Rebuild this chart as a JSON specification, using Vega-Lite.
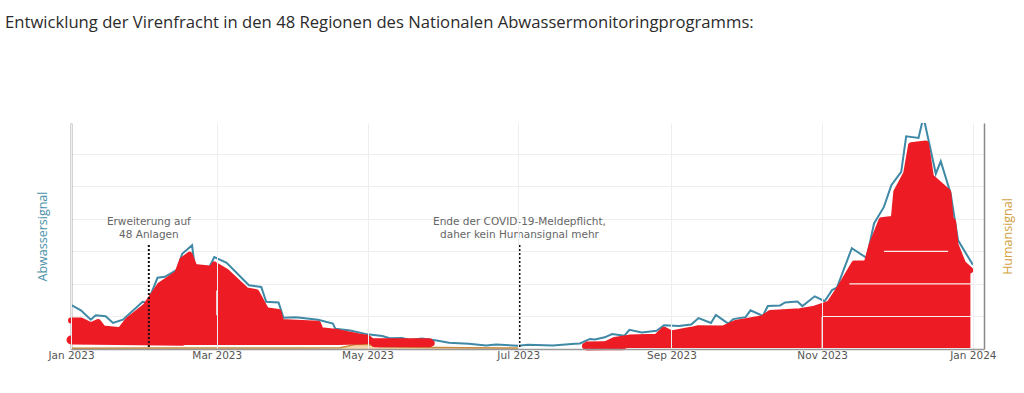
{"$schema":"https://vega.github.io/schema/vega-lite/v6.json","width":913,"height":226,"autosize":{"type":"none"},"padding":{"left":71,"top":123,"right":40,"bottom":44},"background":"white",
"title":{"text":"Entwicklung der Virenfracht in den 48 Regionen des Nationalen Abwassermonitoringprogramms:","anchor":"start","frame":"group","dx":-66,"offset":91,"font":"Open Sans","fontSize":16.65,"fontWeight":"normal","color":"#2b2b2b"},
"config":{"view":{"stroke":null},"font":"Open Sans"},
"datasets":{
"blue":[{"d":"2023-01-01","v":13.6},{"d":"2023-01-05","v":11.9},{"d":"2023-01-09","v":9.0},{"d":"2023-01-11","v":10.4},{"d":"2023-01-15","v":10.05},{"d":"2023-01-18","v":8.0},{"d":"2023-01-22","v":9.0},{"d":"2023-01-30","v":14.5},{"d":"2023-02-01","v":14.2},{"d":"2023-02-05","v":21.9},{"d":"2023-02-08","v":22.2},{"d":"2023-02-13","v":24.4},{"d":"2023-02-15","v":29.3},{"d":"2023-02-19","v":31.9},{"d":"2023-02-20","v":25.7},{"d":"2023-02-26","v":25.2},{"d":"2023-02-28","v":28.3},{"d":"2023-03-05","v":26.5},{"d":"2023-03-14","v":19.6},{"d":"2023-03-19","v":19.1},{"d":"2023-03-21","v":14.5},{"d":"2023-03-26","v":14.3},{"d":"2023-03-28","v":9.6},{"d":"2023-04-02","v":9.8},{"d":"2023-04-11","v":9.0},{"d":"2023-04-17","v":7.8},{"d":"2023-04-18","v":6.2},{"d":"2023-04-24","v":5.7},{"d":"2023-05-01","v":4.5},{"d":"2023-05-07","v":4.0},{"d":"2023-05-10","v":3.3},{"d":"2023-05-15","v":3.4},{"d":"2023-05-18","v":2.8},{"d":"2023-05-23","v":3.2},{"d":"2023-05-29","v":2.6},{"d":"2023-06-03","v":1.9},{"d":"2023-06-11","v":1.6},{"d":"2023-06-18","v":1.1},{"d":"2023-06-22","v":1.4},{"d":"2023-07-01","v":1.0},{"d":"2023-07-05","v":1.3},{"d":"2023-07-15","v":1.1},{"d":"2023-07-24","v":1.6},{"d":"2023-07-26","v":1.7},{"d":"2023-07-30","v":3.1},{"d":"2023-08-01","v":2.9},{"d":"2023-08-05","v":3.6},{"d":"2023-08-08","v":4.6},{"d":"2023-08-13","v":4.1},{"d":"2023-08-15","v":5.9},{"d":"2023-08-20","v":5.1},{"d":"2023-08-26","v":5.6},{"d":"2023-08-29","v":7.3},{"d":"2023-09-04","v":7.1},{"d":"2023-09-09","v":7.5},{"d":"2023-09-12","v":9.5},{"d":"2023-09-17","v":8.0},{"d":"2023-09-19","v":10.5},{"d":"2023-09-24","v":7.8},{"d":"2023-09-26","v":9.2},{"d":"2023-10-01","v":9.8},{"d":"2023-10-03","v":11.9},{"d":"2023-10-08","v":10.2},{"d":"2023-10-10","v":13.2},{"d":"2023-10-15","v":13.4},{"d":"2023-10-17","v":14.3},{"d":"2023-10-22","v":14.6},{"d":"2023-10-24","v":13.2},{"d":"2023-10-29","v":16.2},{"d":"2023-11-02","v":14.7},{"d":"2023-11-05","v":18.1},{"d":"2023-11-07","v":18.9},{"d":"2023-11-13","v":31.0},{"d":"2023-11-19","v":28.0},{"d":"2023-11-22","v":38.6},{"d":"2023-11-26","v":43.7},{"d":"2023-11-29","v":50.4},{"d":"2023-12-03","v":54.5},{"d":"2023-12-05","v":65.4},{"d":"2023-12-10","v":64.9},{"d":"2023-12-12","v":71.4},{"d":"2023-12-17","v":53.9},{"d":"2023-12-19","v":57.7},{"d":"2023-12-23","v":47.8},{"d":"2023-12-26","v":33.4},{"d":"2024-01-01","v":25.9}],
"human":[{"d":"2023-01-01","v":0.2},{"d":"2023-02-01","v":0.3},{"d":"2023-03-01","v":0.3},{"d":"2023-04-01","v":0.3},{"d":"2023-04-20","v":0.4},{"d":"2023-04-26","v":1.4},{"d":"2023-05-01","v":1.4},{"d":"2023-05-06","v":0.7},{"d":"2023-05-20","v":0.5},{"d":"2023-06-10","v":0.4},{"d":"2023-07-01","v":0.3}],
"red":[{"s":"a","d":"2023-01-01","h":8.8,"l":1.5},{"s":"a","d":"2023-01-05","h":8.8,"l":1.5},{"s":"a","d":"2023-01-09","h":7.3,"l":1.5},{"s":"a","d":"2023-01-12","h":8.3,"l":1.5},{"s":"a","d":"2023-01-14","h":6.3,"l":1.5},{"s":"a","d":"2023-01-21","h":5.8,"l":1.5},{"s":"a","d":"2023-01-24","h":8.8,"l":1.3},{"s":"a","d":"2023-01-31","h":13,"l":1.2},{"s":"a","d":"2023-02-06","h":19.6,"l":1.2},{"s":"a","d":"2023-02-13","h":23.2,"l":1.2},{"s":"a","d":"2023-02-15","h":27.3,"l":1.2},{"s":"a","d":"2023-02-18","h":29,"l":1.2},{"s":"a","d":"2023-02-20","h":25.2,"l":1.2},{"s":"a","d":"2023-02-27","h":24.7,"l":1.2},{"s":"a","d":"2023-02-28","h":26,"l":1.2},{"s":"a","d":"2023-03-05","h":23.7,"l":1.2},{"s":"a","d":"2023-03-13","h":18,"l":1.2},{"s":"a","d":"2023-03-17","h":17.5,"l":1.2},{"s":"a","d":"2023-03-21","h":11.9,"l":1.2},{"s":"a","d":"2023-03-26","h":11.4,"l":1.2},{"s":"a","d":"2023-03-27","h":8.3,"l":1.2},{"s":"a","d":"2023-04-11","h":7.8,"l":1.2},{"s":"a","d":"2023-04-12","h":5.8,"l":1.2},{"s":"a","d":"2023-04-19","h":5.2,"l":1.2},{"s":"a","d":"2023-04-28","h":3.8,"l":1.4},{"s":"a","d":"2023-05-01","h":3.5,"l":1.5},{"s":"a","d":"2023-05-03","h":2.3,"l":1.3},{"s":"a","d":"2023-05-27","h":1.8,"l":1.3},
{"s":"b","d":"2023-07-28","h":0.9,"l":0.2},{"s":"b","d":"2023-08-05","h":1.3,"l":0.1},{"s":"b","d":"2023-08-09","h":2.8,"l":0.1},{"s":"b","d":"2023-08-15","h":3.5,"l":0.3},{"s":"b","d":"2023-08-26","h":3.8,"l":0.3},{"s":"b","d":"2023-08-29","h":5.9,"l":0.3},{"s":"b","d":"2023-09-01","h":4.8,"l":0.3},{"s":"b","d":"2023-09-09","h":5.9,"l":0.3},{"s":"b","d":"2023-09-12","h":6.4,"l":0.3},{"s":"b","d":"2023-09-22","h":6.3,"l":0.3},{"s":"b","d":"2023-09-27","h":8.0,"l":0.3},{"s":"b","d":"2023-10-08","h":9.5,"l":0.3},{"s":"b","d":"2023-10-11","h":11.1,"l":0.3},{"s":"b","d":"2023-10-23","h":11.6,"l":0.3},{"s":"b","d":"2023-10-29","h":12.4,"l":0.3},{"s":"b","d":"2023-11-04","h":14,"l":0.3},{"s":"b","d":"2023-11-08","h":18.6,"l":0.3},{"s":"b","d":"2023-11-14","h":26.3,"l":0.3},{"s":"b","d":"2023-11-19","h":26.3,"l":0.3},{"s":"b","d":"2023-11-21","h":31.9,"l":0.3},{"s":"b","d":"2023-11-25","h":39.6,"l":0.3},{"s":"b","d":"2023-11-30","h":40.1,"l":0.3},{"s":"b","d":"2023-12-01","h":48.3,"l":0.3},{"s":"b","d":"2023-12-05","h":54,"l":0.3},{"s":"b","d":"2023-12-07","h":62.7,"l":0.3},{"s":"b","d":"2023-12-13","h":63.2,"l":0.3},{"s":"b","d":"2023-12-15","h":53,"l":0.3},{"s":"b","d":"2023-12-22","h":48.3,"l":0.3},{"s":"b","d":"2023-12-23","h":40.1,"l":0.3},{"s":"b","d":"2023-12-24","h":39.1,"l":0.3},{"s":"b","d":"2023-12-25","h":32,"l":0.3},{"s":"b","d":"2023-12-28","h":26.3,"l":0.3},{"s":"b","d":"2023-12-31","h":24.2,"l":0.3}],
"stroke":[{"s":"c","d":"2023-01-01","v":2.8},{"s":"c","d":"2023-01-20","v":2.6},{"s":"c","d":"2023-02-15","v":2.4},{"s":"d","d":"2023-05-04","v":1.9},{"s":"d","d":"2023-05-26","v":1.9},{"s":"e","d":"2023-07-29","v":0.9},{"s":"e","d":"2023-08-05","v":1.0},{"s":"e","d":"2023-08-12","v":1.0}],
"gaps":[{"a":"2023-11-26","b":"2023-12-22","y":30,"y2":30},{"a":"2023-11-12","b":"2024-01-01","y":20,"y2":20},{"a":"2023-11-01","b":"2024-01-01","y":10,"y2":10},{"a":"2023-11-01","b":"2023-11-01","y":0,"y2":10},{"a":"2023-03-01","b":"2023-03-01","y":10.4,"y2":18}],
"marks":[{"d":"2023-02-01T12:00:00Z","top":32,"base":0,"label":"Erweiterung auf\n48 Anlagen","ty":37.4},{"d":"2023-07-01T12:00:00Z","top":32,"base":0,"label":"Ende der COVID-19-Meldepflicht,\n daher kein Humansignal mehr","ty":37.4}]
},
"encoding":{"x":{"field":"d","type":"temporal","scale":{"type":"utc","domain":["2023-01-01T00:00:00Z","2024-01-05T12:00:00Z"]},"axis":{"title":null,"format":"%b %Y","tickCount":{"interval":"month","step":2},"grid":true,"gridColor":"#eeeeee","ticks":false,"domainColor":"#999999","domainWidth":1.5,"labelColor":"#555555","labelFont":"DejaVu Sans","labelFontSize":10.5,"labelPadding":1,"labelFlush":false,"labelOverlap":false,"zindex":1}}},
"layer":[
{"data":{"name":"human"},"mark":{"type":"area","color":"#f3c999","opacity":0.8,"line":{"color":"#c98a3c","strokeWidth":1.5}},"encoding":{"y":{"field":"v","type":"quantitative","scale":{"domain":[0,69.5],"nice":false},"axis":{"orient":"right","title":"Humansignal","titleAngle":270,"titleColor":"#d49f3f","titleFont":"Open Sans","titleFontSize":12.5,"titleFontWeight":"normal","titlePadding":30,"labels":false,"ticks":false,"grid":false,"domainColor":"#888888","domainWidth":1.5}}}},
{"data":{"name":"blue"},"mark":{"type":"line","color":"#3f89a6","strokeWidth":2,"clip":true},"encoding":{"y":{"field":"v","type":"quantitative","scale":{"domain":[0,69.5],"nice":false},"axis":{"orient":"left","title":"Abwassersignal","titleColor":"#4a8fa8","titleFont":"Open Sans","titleFontSize":12.5,"titleFontWeight":"normal","titlePadding":22,"labels":false,"ticks":false,"values":[0,10,20,30,40,50,60],"grid":true,"gridColor":"#eeeeee","domainColor":"#555555","domainWidth":1.5}}}},
{"data":{"name":"red"},"mark":{"type":"area","color":"#ed1c24"},"encoding":{"detail":{"field":"s"},"y":{"field":"h","type":"quantitative","scale":{"domain":[0,69.5],"nice":false},"axis":null},"y2":{"field":"l"}}},
{"data":{"name":"red"},"mark":{"type":"line","color":"#ed1c24","strokeWidth":6,"strokeJoin":"round","strokeCap":"round"},"encoding":{"detail":{"field":"s"},"y":{"field":"h","type":"quantitative","scale":{"domain":[0,69.5],"nice":false},"axis":null}}},
{"data":{"name":"stroke"},"mark":{"type":"line","color":"#ed1c24","strokeWidth":9,"strokeJoin":"round","strokeCap":"round"},"encoding":{"detail":{"field":"s"},"y":{"field":"v","type":"quantitative","scale":{"domain":[0,69.5],"nice":false},"axis":null}}},
{"data":{"name":"gaps"},"mark":{"type":"rule","color":"#fbeeee","strokeWidth":1.2},"encoding":{"x":{"field":"a","type":"temporal"},"x2":{"field":"b"},"y":{"field":"y","type":"quantitative","scale":{"domain":[0,69.5],"nice":false},"axis":null},"y2":{"field":"y2"}}},
{"data":{"name":"marks"},"mark":{"type":"rule","color":"#111111","strokeWidth":2,"strokeDash":[2,2]},"encoding":{"y":{"field":"top","type":"quantitative","scale":{"domain":[0,69.5],"nice":false},"axis":null},"y2":{"field":"base"}}},
{"data":{"name":"marks"},"mark":{"type":"text","font":"DejaVu Sans","fontSize":10.5,"color":"#666666","align":"center","baseline":"bottom","lineBreak":"\n","lineHeight":13},"encoding":{"text":{"field":"label"},"y":{"field":"ty","type":"quantitative","scale":{"domain":[0,69.5],"nice":false},"axis":null}}}
],
"resolve":{"scale":{"y":"independent"},"axis":{"y":"independent"}}}
